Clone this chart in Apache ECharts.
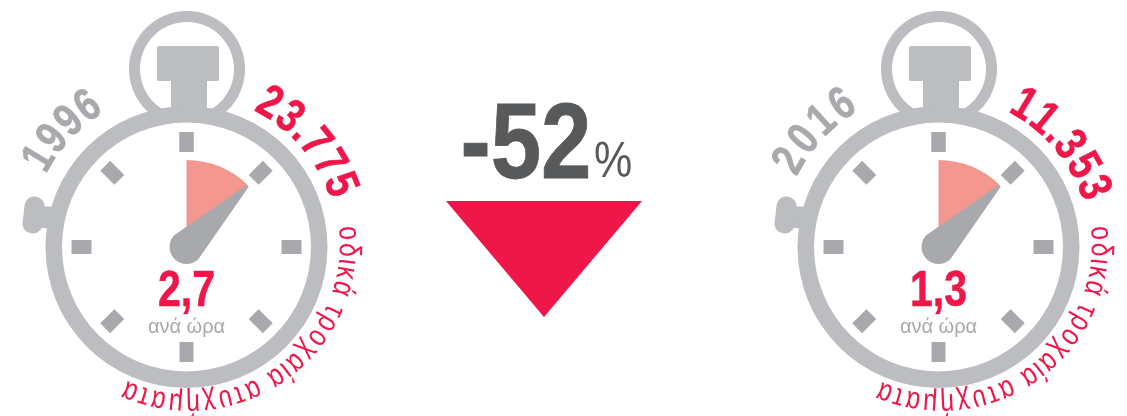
<!DOCTYPE html>
<html>
<head>
	<meta charset="UTF-8">
	<title></title>
	<script src="https://cdn.jsdelivr.net/npm/echarts@6/dist/echarts.min.js"></script>
	<style>
		html, body { margin: 0; padding: 0; background: #fff; }
		#main { width: 1127px; height: 416px; }
	</style>
</head>
<body>
	<div id="main"></div>
	<script type="text/javascript">
	var years = ['1996', '2016'];
	var accidents = ['23.775', '11.353'];
	var perHour = ['2,7', '1,3'];
	var perHourLabel = 'ανά ώρα';
	var accidentLabel = 'οδικά τροχαία ατυχήματα';
	var changeValue = '-52';
	var changeUnit = '%';
	// slice shown on the clock face and hand position, in degrees from 12 o'clock
	var sliceDegrees = [45, 45];
	var handDegrees = [45, 45];

	var RED = '#ef1649', RING = '#bbbdc0', MARK = '#a7a9ac', SLICE = '#f4978e', DARK = '#58595b';
	var SANS = '"Liberation Sans", sans-serif';
	var centersX = [186.5, 938.5];
	var CY = 247;
	// angles of first and last glyph, one row per clock
	var yearArcs = [[-59, -35], [-60, -34]];
	var countArcs = [[30, 68], [31, 69]];
	var labelArcs = [[86, 202], [86, 201]];

	var measure = document.createElement('canvas').getContext('2d');

	// curved text, one glyph per element. squeeze stands in for a condensed face
	function arcText(text, arcCx, arcCy, arc, r, size, weight, color, squeeze, bolder) {
		var fontStr = weight + ' ' + size + 'px ' + SANS;
		measure.font = fontStr;
		var chars = text.split('');
		var widths = chars.map(function (c) { return measure.measureText(c).width; });
		var pos = [], run = 0;
		chars.forEach(function (c, i) {
			pos.push(run + widths[i] / 2);
			run += widths[i];
		});
		var first = pos[0], last = pos[pos.length - 1];
		return chars.map(function (c, i) {
			var deg = arc[0] + (arc[1] - arc[0]) * (pos[i] - first) / (last - first);
			var rad = deg * Math.PI / 180;
			return {
				type: 'text',
				x: arcCx + r * Math.sin(rad),
				y: arcCy - r * Math.cos(rad),
				rotation: -rad,
				scaleX: squeeze,
				silent: true,
				z: 5,
				style: { text: c, font: fontStr, fill: color, stroke: color, lineWidth: bolder, align: 'center', verticalAlign: 'middle' }
			};
		});
	}

	function plainText(text, x, y, font, color, squeeze, bolder) {
		return {
			type: 'text', x: x, y: y, scaleX: squeeze, silent: true, z: 5,
			style: { text: text, font: font, fill: color, stroke: color, lineWidth: bolder, align: 'center', verticalAlign: 'middle' }
		};
	}

	function clockBody(cx) {
		return [
			{ type: 'ring', shape: { cx: cx + 0.5, cy: 69, r: 58, r0: 47 }, style: { fill: RING }, z: 1 },
			{ type: 'rect', shape: { x: cx - 29.5, y: 46, width: 62, height: 35, r: 2 }, style: { fill: RING }, z: 1 },
			{ type: 'rect', shape: { x: cx - 15.5, y: 80, width: 36, height: 36 }, style: { fill: RING }, z: 1 },
			{ type: 'polygon', shape: { points: [[cx - 147, 206], [cx - 130, 207], [cx - 135, 228], [cx - 149, 228]] }, style: { fill: RING }, z: 1 },
			{ type: 'rect', x: cx - 153, y: 215, rotation: -0.12, shape: { x: -10, y: -18.5, width: 20, height: 37, r: 9.5 }, style: { fill: RING }, z: 1 },
			{ type: 'circle', shape: { cx: cx, cy: CY, r: 125 }, style: { fill: '#fff' }, z: 1 },
			{ type: 'ring', shape: { cx: cx, cy: CY, r: 141, r0: 124.5 }, style: { fill: RING }, z: 1 }
		];
	}

	var elements = [];
	var series = [];
	centersX.forEach(function (cx, i) {
		elements = elements.concat(clockBody(cx));
		elements = elements.concat(arcText(years[i], cx, CY, yearArcs[i], 171, 46, 'bold', MARK, 0.8, 0.6));
		elements = elements.concat(arcText(accidents[i], cx, CY, countArcs[i], 165, 47, 'bold', RED, 0.8, 0.6));
		elements = elements.concat(arcText(accidentLabel, cx + 3, CY - 3, labelArcs[i], 159, 31, 'normal', RED, 0.8, 0));
		elements.push(plainText(perHour[i], cx, 292, 'bold 50px ' + SANS, RED, 0.82, 0.6));
		elements.push(plainText(perHourLabel, cx, 327, '20px ' + SANS, MARK, 1, 0));

		series.push({
			type: 'pie',
			silent: true,
			z: 2,
			center: [cx, CY],
			radius: [0, 87],
			startAngle: 90,
			clockwise: true,
			animation: false,
			label: { show: false },
			labelLine: { show: false },
			data: [
				{ value: sliceDegrees[i], itemStyle: { color: SLICE } },
				{ value: 360 - sliceDegrees[i], itemStyle: { color: 'transparent' } }
			]
		});
		series.push({
			type: 'gauge',
			silent: true,
			z: 3,
			center: [cx, CY],
			radius: 115,
			startAngle: 90,
			endAngle: -270,
			min: 0,
			max: 360,
			splitNumber: 8,
			animation: false,
			axisLine: { show: false, lineStyle: { width: 0 } },
			axisTick: { show: false },
			axisLabel: { show: false },
			splitLine: { show: true, distance: 0, length: 20, lineStyle: { color: MARK, width: 14, cap: 'butt' } },
			pointer: {
				show: true,
				icon: 'path://M15.5 1Q17 -1 18.5 1L34 87A17 17 0 0 1 0 87Z',
				length: 104,
				width: 34,
				offsetCenter: [0, 17],
				itemStyle: { color: MARK }
			},
			anchor: { show: false },
			title: { show: false },
			detail: { show: false },
			data: [{ value: handDegrees[i] }]
		});
	});

	elements.push({
		type: 'polygon',
		shape: { points: [[446, 201], [642, 201], [544, 317]] },
		style: { fill: RED }
	});
	elements.push(plainText(changeValue, 526, 148, 'bold 108px ' + SANS, DARK, 0.84, 0.8));
	elements.push(plainText(changeUnit, 613, 163, '50px ' + SANS, DARK, 0.86, 0));

	var myChart = echarts.init(document.getElementById('main'));
	var option = {
		animation: false,
		backgroundColor: '#fff',
		graphic: { elements: elements },
		series: series
	};
	myChart.setOption(option);
	</script>
</body>
</html>
